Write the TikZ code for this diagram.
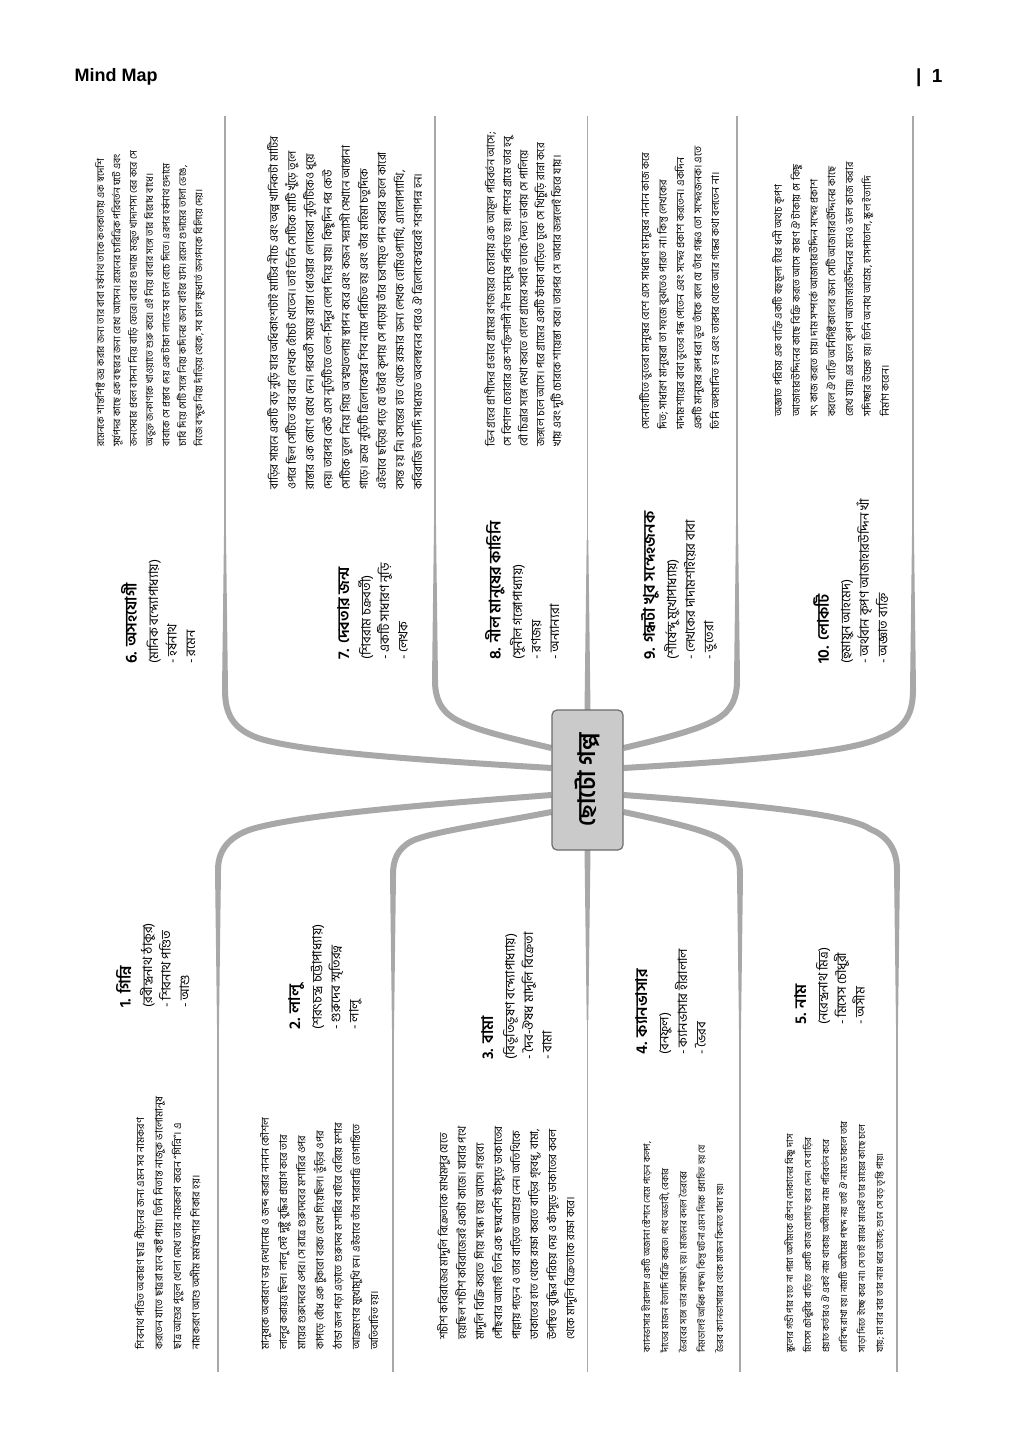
\documentclass[tikz,border=0pt]{standalone}
\usepackage{fontspec}
\setmainfont{Liberation Sans}
\newfontfamily\bn[Script=Bengali]{Hind Siliguri}
\usetikzlibrary{calc,backgrounds}
\definecolor{branchgray}{HTML}{A8A8A8}
\definecolor{hubfill}{HTML}{CACACA}
\newcommand\ttl[1]{{\bfseries\fontsize{16}{18}\selectfont #1}}
\begin{document}
\begin{tikzpicture}[x=1pt, y=-1pt,
  desc/.style 2 args={rotate=90, anchor=north west, align=left, inner sep=0pt, font=\bn\fontsize{#1}{#2}\selectfont},
  lbl/.style={rotate=90, anchor=north west, align=left, inner sep=0pt, font=\bn\fontsize{13}{18.5}\selectfont},
  hubbox/.style={rotate=90, draw=gray!85!black, fill=hubfill, rounded corners=5pt, line width=1.2pt,
    minimum width=140pt, minimum height=71pt, font=\bn\bfseries\fontsize{24}{28}\selectfont},
  divider/.style={draw=branchgray, line width=1.6pt},
  branch/.style={draw=branchgray, line width=6pt}]
\useasboundingbox (0,0) rectangle (1024,1440);
\node[font=\bfseries\fontsize{18}{20}\selectfont, anchor=west] (title) at (71,77) {Mind Map};
\node[font=\bfseries\fontsize{19}{22}\selectfont, anchor=east] (pagenum) at (946,78) {|\ \ 1};

\node[hubbox] (hub) at (587.5,780) {ছোটো গল্প};

\begin{scope}[on background layer]
\fill[white] (0,0) rectangle (1024,1440);
\foreach \n/\x/\yb in {6/225/690, 7/435/680, 8/587.5/710, 9/737/680, 10/913/690} {
  \coordinate (top\n) at (\x,116);
  \coordinate (bend\n) at (\x,\yb);
  \fill[branchgray] (\x-3,\yb) -- (\x-0.8,\yb-170) -- (\x+0.8,\yb-170) -- (\x+3,\yb) -- cycle;
  \draw[divider] (bend\n) -- (top\n);
}
\foreach \n/\x/\yb in {1/218/870, 2/393/875, 3/587.5/850, 4/740/875, 5/897/870} {
  \coordinate (foot\n) at (\x,1372);
  \coordinate (bend\n) at (\x,\yb);
  \fill[branchgray] (\x-3,\yb) -- (\x-0.8,\yb+170) -- (\x+0.8,\yb+170) -- (\x+3,\yb) -- cycle;
  \draw[divider] (bend\n) -- (foot\n);
}
\draw[branch] ($(hub.north)+(0,-12)$) .. controls (420,760) and (300,752) .. (258,738) .. controls (233,729) and (225,714) .. (bend6);
\draw[branch] ($(hub.north)+(0,-32)$) .. controls (505,737) and (472,729) .. (455,719) .. controls (440,710) and (435,698) .. (bend7);
\draw[branch] ($(hub.south)+(0,-32)$) .. controls (670,737) and (700,729) .. (717,719) .. controls (732,710) and (737,698) .. (bend9);
\draw[branch] ($(hub.south)+(0,-12)$) .. controls (760,760) and (850,752) .. (880,738) .. controls (905,729) and (913,714) .. (bend10);
\draw[branch] ($(hub.north)+(0,15)$) .. controls (420,805) and (300,815) .. (252,829) .. controls (227,837) and (218,852) .. (bend1);
\draw[branch] ($(hub.north)+(0,32)$) .. controls (490,824) and (428,832) .. (410,842) .. controls (397,850) and (393,860) .. (bend2);
\draw[branch] ($(hub.south)+(0,32)$) .. controls (680,824) and (712,832) .. (725,842) .. controls (737,850) and (740,860) .. (bend4);
\draw[branch] ($(hub.south)+(0,15)$) .. controls (760,805) and (850,815) .. (870,829) .. controls (890,837) and (897,852) .. (bend5);
\end{scope}

\node[lbl] (l6) at (121,664) {\ttl{6. অসহযোগী}\\[3pt] (মানিক বন্দ্যোপাধ্যায়)\\ - হর্ষনাথ\\ - রমেন};
\node[lbl] (l7) at (337,660) {\ttl{7. দেবতার জন্ম}\\[3pt] (শিবরাম চক্রবর্তী)\\ - একটি সাধারণ নুড়ি\\ - লেখক};
\node[lbl] (l8) at (485,660) {\ttl{8. নীল মানুষের কাহিনি}\\[3pt] (সুনীল গঙ্গোপাধ্যায়)\\ - রণজয়\\ - অন্যান্যরা};
\node[lbl] (l9) at (641,660) {\ttl{9. গন্ধটা খুব সন্দেহজনক}\\[3pt] (শীর্ষেন্দু মুখোপাধ্যায়)\\ - লেখকের দাদামশাইয়ের বাবা\\ - ভুতেরা};
\node[lbl] (l10) at (813,664) {\ttl{10. লোকটি}\\[3pt] (হুমায়ুন আহমেদ)\\ - অর্থবান কৃপণ আজাহারউদ্দিন খাঁ\\ - অজ্ঞাত ব্যক্তি};
\node[lbl] (l1) at (116,1008) {\ttl{1. গিন্নি}\\[3pt] (রবীন্দ্রনাথ ঠাকুর)\\ - শিবনাথ পণ্ডিত\\ - আশু};
\node[lbl] (l2) at (288,1030) {\ttl{2. লালু}\\[3pt] (শরৎচন্দ্র চট্টোপাধ্যায়)\\ - গুরুদেব স্মৃতিরত্ন\\ - লালু};
\node[lbl] (l3) at (481,1060) {\ttl{3. বামা}\\[3pt] (বিভূতিভূষণ বন্দ্যোপাধ্যায়)\\ - দৈব-ঔষধ মাদুলি বিক্রেতা\\ - বামা};
\node[lbl] (l4) at (635,1055) {\ttl{4. ক্যানভাসার}\\[3pt] (বনফুল)\\ - ক্যানভাসার হীরালাল\\ - ভৈরব};
\node[lbl] (l5) at (794,1025) {\ttl{5. নাম}\\[3pt] (নরেন্দ্রনাথ মিত্র)\\ - মিসেস চৌধুরী\\ - অসীম};

\node[desc={10}{16.4}] (d6) at (95,447) {রমেনকে শান্তশিষ্ট ভদ্র করার জন্য তার বাবা হর্ষনাথ তাকে কলকাতায় এক স্বদেশি\\ সূর্যপদর কাছে এক বছরের জন্য রেখে আসেন। রমেনের চারিত্রিক পরিবর্তন ঘটে এবং\\ জনসেবার প্রবল বাসনা নিয়ে বাড়ি ফেরে। বাবার গুদামে মজুত খাদ্যশস্য বের করে সে\\ অভুক্ত জনগণকে খাওয়াতে শুরু করে। এই নিয়ে বাবার সঙ্গে তার বিরোধ বাধে।\\ বাবাকে সে প্রস্তাব দেয় এক টাকা লাভে সব চাল বেচে দিতে। এরপর হর্ষনাথ গুদামে\\ চাবি দিয়ে সেটি সঙ্গে নিয়ে কদিনের জন্য বাইরে যান। রমেন গুদামের তালা ভেঙে,\\ নিজে বন্দুক নিয়ে দাঁড়িয়ে থেকে, সব চাল ক্ষুধার্ত জনগনকে বিলিয়ে দেয়।};
\node[desc={11.4}{18}] (d7) at (267,490) {বাড়ির সামনে একটি বড় নুড়ি যার অধিকাংশটাই মাটির নীচে এবং অল্প খানিকটা মাটির\\ ওপরে ছিল সেটিতে বার বার লেখক হোঁচট খেতেন। তাই তিনি সেটিকে মাটি খুঁড়ে তুলে\\ রাস্তার এক কোণে রেখে দেন। পরবর্তী সময়ে রাস্তা ধোওয়ার লোকেরা নুড়িটিকেও ধুয়ে\\ দেয়। তারপর কেউ এসে নুড়িটিতে তেল-সিঁদুর লেপে দিয়ে যায়। কিছুদিন পর কেউ\\ সেটিকে তুলে নিয়ে গিয়ে অশ্বত্থতলায় স্থাপন করে এবং কজন সন্ন্যাসী সেখানে আস্তানা\\ গাড়ে। ক্রমে নুড়িটি ত্রিলোকেশ্বর শিব নামে পরিচিত হয় এবং তাঁর মহিমা চতুর্দিকে\\ এইভাবে ছড়িয়ে পড়ে যে তাঁরই কৃপায় সে পাড়ায় তাঁর চরণামৃত পান করার ফলে কারো\\ বসন্ত হয় নি। বসন্তের হাত থেকে রক্ষার জন্য লেখক হোমিওপ্যাথি, এ্যালোপ্যাথি,\\ কবিরাজি ইত্যাদি সাধ্যমত অবলম্বনের পরেও ঐ ত্রিলোকেশ্বরেরই শরণাপন্ন হন।};
\node[desc={11}{16.6}] (d8) at (484,447) {ভিন গ্রহের প্রাণীদের প্রভাবে গ্রামের রণজয়ের চেহারায় এক আমূল পরিবর্তন আসে;\\ সে বিশাল চেহারার এক শক্তিশালী নীল মানুষে পরিণত হয়। পাশের গ্রামে তার হবু\\ বৌ চিত্রার সঙ্গে দেখা করতে গেলে গ্রামের সবাই তাকে দৈত্য ভাবায় সে পালিয়ে\\ জঙ্গলে চলে আসে। পরে গ্রামের একটি ফাঁকা বাড়িতে ঢুকে সে খিচুড়ি রান্না করে\\ খায় এবং দুটি চোরকে শায়েস্তা করে। তারপর সে আবার জঙ্গলেই ফিরে যায়।};
\node[desc={10.6}{17.5}] (d9) at (639,430) {সেনোহাটিতে ভুতেরা মানুষের বেশে এসে সাধারণ মানুষের নানান কাজ করে\\ দিত; সাধারণ মানুষেরা তা সহজে বুঝতেও পারত না। কিন্তু লেখকের\\ দাদামশায়ের বাবা ভুতের গন্ধ পেতেন এবং সন্দেহ প্রকাশ করতেন। একদিন\\ একটি মানুষের রূপ ধরা ভুত তাঁকে বলে যে তাঁর গন্ধও তো সন্দেহজনক। এতে\\ তিনি অপমানিত হন এবং তারপর থেকে আর গন্ধের কথা বলতেন না।};
\node[desc={10.4}{17.8}] (d10) at (772,417) {অজ্ঞাত পরিচয় এক ব্যক্তি একটি বহুমূল্য হীরে ধনী অথচ কৃপণ\\ আজাহারউদ্দিনের কাছে বিক্রি করতে আসে কারণ ঐ টাকায় সে কিছু\\ সৎ কাজ করতে চায়। দাম সম্পর্কে আজাহারউদ্দিন সন্দেহ প্রকাশ\\ করলে ঐ ব্যক্তি অনির্দিষ্টকালের জন্য সেটি আজাহারউদ্দিনের কাছে\\ রেখে যায়। এর ফলে কৃপণ আজাহারউদ্দিনের মনেও ভাল কাজ করার\\ সদিচ্ছার উদ্রেক হয়। তিনি অনাথ আশ্রম, হাসপাতাল, স্কুল ইত্যাদি\\ নির্মাণ করেন।};
\node[desc={10.5}{18.5}] (d1) at (134,1350) {শিবনাথ পণ্ডিত অকারণ ছাত্র পীড়নের জন্য এমন সব নামকরণ\\ করতেন যাতে ছাত্ররা মনে কষ্ট পায়। তিনি নিতান্ত নাজুক ভালোমানুষ\\ ছাত্র আশুর পুতুল খেলা দেখে তার নামকরণ করেন “গিন্নি”। এ\\ নামকরণে আশু অসীম মর্মযন্ত্রণার শিকার হয়।};
\node[desc={10.6}{18.2}] (d2) at (260,1350) {মানুষকে অকারণে ভয় দেখানোর ও জব্দ করার নানান কৌশল\\ লালুর করায়ত্ত ছিল। লালু সেই দুষ্টু বুদ্ধির প্রয়োগ করে তার\\ মায়ের গুরুদেবের ওপর। সে রাত্রে গুরুদেবের মশারির ওপর\\ কাপড়ে বেঁধে এক টুকরো বরফ রেখে গিয়েছিল। ভুঁড়ির ওপর\\ ঠান্ডা জল পড়া এড়াতে গুরুদেব মশারির বাইরে বেরিয়ে মশার\\ আক্রমণের মুখোমুখি হন। এইভাবে তাঁর সারারাত্রি ভোগান্তিতে\\ অতিবাহিত হয়।};
\node[desc={11.2}{18.1}] (d3) at (437,1340) {শচীশ কবিরাজের মাদুলি বিক্রেতাকে মাখমপুর যেতে\\ হয়েছিল শচীশ কবিরাজেরই একটা কাজে। যাবার পথে\\ মাদুলি বিক্রি করতে গিয়ে সন্ধ্যে হয়ে আসে। গন্তব্যে\\ পৌঁছবার আগেই তিনি এক ছদ্মবেশি ফাঁসুড়ে ডাকাতের\\ পাল্লায় পড়েন ও তার বাড়িতে আশ্রয় নেন। অতিথিকে\\ ডাকাতের হাত থেকে রক্ষা করতে বাড়ির গৃহবধূ, বামা,\\ উপস্থিত বুদ্ধির পরিচয় দেয় ও ফাঁসুড়ে ডাকাতের কবল\\ থেকে মাদুলি বিক্রেতাকে রক্ষা করে।};
\node[desc={9.4}{18.3}] (d4) at (641,1353) {ক্যানভাসার হীরালাল একটি অজানা স্টেশনে নেমে পড়েন কলপ,\\ দাঁতের মাজন ইত্যাদি বিক্রি করতে। পথে অভাবী, বেকার\\ ভৈরবের সঙ্গে তার সাক্ষাৎ হয়। মাজনের বদলে ভৈরবের\\ নিমডালই অধিক পছন্দ। কিন্তু ঘটনা এমন দিকে প্রবাহিত হয় যে\\ ভৈরব ক্যানভাসারের থেকে মাজন কিনতে বাধ্য হয়।};
\node[desc={9.4}{18}] (d5) at (784,1353) {স্কুলের গন্ডী পার হতে না পারা অসীমকে স্টেশন দোকানের বিষ্ণু দাস\\ মিসেস চৌধুরীর বাড়িতে একটি কাজ যোগাড় করে দেন। সে বাড়ির\\ প্রয়াত কর্তারও ঐ একই নাম থাকায় অসীমের নাম পরিবর্তন করে\\ গোবিন্দ রাখা হয়। নামটি অসীমের পছন্দ নয় তাই ঐ নামে ডাকলে তার\\ সাড়া দিতে ইচ্ছে করে না। সে তাই মাঝে মাঝেই তার মায়ের কাছে চলে\\ যায়; মা বার বার তার নাম ধরে ডাকে; শুনে সে বড় তৃপ্তি পায়।};
\end{tikzpicture}
\end{document}
